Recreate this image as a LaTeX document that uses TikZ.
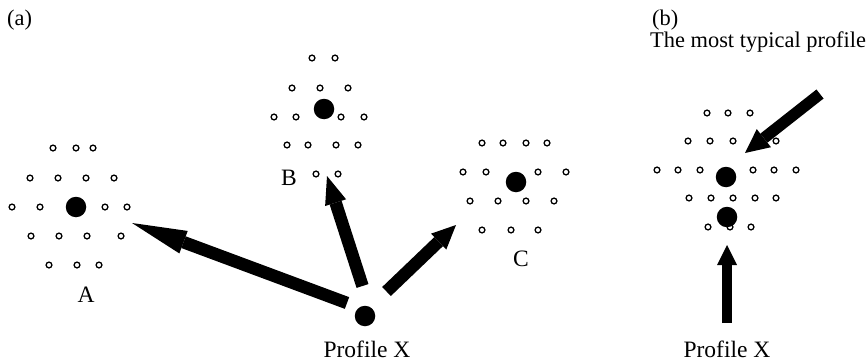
\documentclass[tikz,border=0pt]{standalone}
\usepackage{fontspec}
\setmainfont{Liberation Serif}
\usetikzlibrary{arrows.meta}
\begin{document}
\begin{tikzpicture}[x=1pt,y=-1pt,
  ring/.style={draw,circle,line width=1.3pt,minimum size=5.8pt,inner sep=0pt},
  bigdot/.style={circle,fill=black,inner sep=0pt,minimum size=20.5pt},
  lab/.style={inner sep=0pt,font=\fontsize{22.4}{26}\selectfont},
  biglab/.style={inner sep=0pt,font=\fontsize{23.5}{27}\selectfont},
  fatarrow/.style={line width=#1}]
\useasboundingbox (0,0) rectangle (867,361);
% cluster A
\foreach \x/\y [count=\i] in {53/148,76/148,93/148,
  30/178,58/178,86/178,114/178,
  12/207,40/207,105/207,127/207,
  31/236,59/236,87/236,121/236,
  49/265,77/265,99/265}
  \node[ring] (ra\i) at (\x,\y) {};
% cluster B
\foreach \x/\y [count=\i] in {312/58,335/58,
  292/88,320/88,348/88,
  274/117,296/117,341/117,364/117,
  287/145,308/145,336/145,358/145,
  316/174,338/174}
  \node[ring] (rb\i) at (\x,\y) {};
% cluster C
\foreach \x/\y [count=\i] in {482/143,503/143,526/143,547/143,
  463/172,486/172,538/172,566/172,
  470/201,498/201,526/201,554/201,
  482/230,511/230,538/230}
  \node[ring] (rc\i) at (\x,\y) {};
% cluster (b)
\foreach \x/\y [count=\i] in {707/113,728/113,750/113,
  688/141,710/141,733/141,776/141,
  657/170,678/170,700/170,753/170,774/170,796/170,
  689/198,711/198,733/198,755/198,776/198,
  708/227,730/227,751/227}
  \node[ring] (rd\i) at (\x,\y) {};
% big dots
\node[bigdot] (A) at (76,207) {};
\node[bigdot] (B) at (324,109) {};
\node[bigdot] (C) at (516,182) {};
\node[bigdot] (px) at (365,316) {};
\node[bigdot] (typ) at (726,177) {};
\node[bigdot] (xb) at (727,217) {};
% labels
\node[lab,anchor=base west] (la) at (7,26) {(a)};
\node[lab,anchor=base west] (lb) at (652,26) {(b)};
\node[lab,anchor=base west] (lt) at (650,48) {The most typical profile};
\node[biglab,anchor=base] (labA) at (86,302) {A};
\node[biglab,anchor=base] (labB) at (289,185) {B};
\node[biglab,anchor=base] (labC) at (521,266) {C};
\node[biglab,anchor=base] (lpx) at (367,357) {Profile X};
\node[biglab,anchor=base] (lpxb) at (727,357) {Profile X};
% arrow ends
\coordinate (tA) at (347,303); \coordinate (hA) at (132,223);
\coordinate (tB) at (362.5,286); \coordinate (hB) at (327,176);
\coordinate (tC) at (386.5,291.5); \coordinate (hC) at (456,225);
\coordinate (tD) at (820,94); \coordinate (hD) at (745,153);
\coordinate (tE) at (727,323); \coordinate (hE) at (727,245);
\draw[fatarrow=12.5pt,-{Triangle[length=55pt,width=24pt,line width=0pt]}] (tA) -- (hA);
\draw[fatarrow=12.5pt,-{Triangle[length=28pt,width=22pt,line width=0pt]}] (tB) -- (hB);
\draw[fatarrow=12.5pt,-{Triangle[length=24pt,width=22pt,line width=0pt]}] (tC) -- (hC);
\draw[fatarrow=11.5pt,-{Triangle[length=24pt,width=23pt,line width=0pt]}] (tD) -- (hD);
\draw[fatarrow=10pt,-{Triangle[length=20pt,width=20pt,line width=0pt]}] (tE) -- (hE);
\end{tikzpicture}
\end{document}
